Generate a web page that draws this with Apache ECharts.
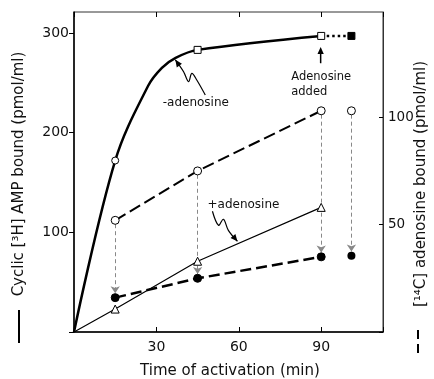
<!DOCTYPE html>
<html>
<head>
<meta charset="utf-8">
<script src="https://cdn.jsdelivr.net/npm/echarts@6/dist/echarts.min.js"></script>
<style>
html,body{margin:0;padding:0;background:#fff;}
#c{width:434px;height:379px;}
</style>
</head>
<body>
<div id="c"></div>
<script>
// ---- data ----
const xTicks = [30, 60, 90];
const leftTicks = [100, 200, 300];
const rightTicks = [50, 100];

// cyclic [3H]AMP bound, - adenosine (left axis), marked points
const minusAdoT = [0, 15, 45, 90];
const minusAdoV = [0, 172, 283, 297];
const minusAdoSym = ['none', 'circle', 'rect', 'rect'];
// extra points (unmarked)
const minusAdoCurveT = [27, 32, 37];
const minusAdoCurveV = [247, 265, 275];
// after adenosine added
const addedT = [90, 101];
const addedV = [297, 297];

// cyclic [3H]AMP bound, + adenosine (left axis)
const plusAdoT = [0, 15, 45, 90];
const plusAdoV = [0, 23, 71, 125];

// [14C]adenosine (right axis): open circles and filled circles
const adoT = [15, 45, 90];
const adoOpenV = [52, 75, 103];
const adoFilledV = [16, 25, 35];
const extraT = [101];
const extraOpenV = [103];
const extraFilledV = [35.5];

const chart = echarts.init(document.getElementById('c'));
const FONT = 'DejaVu Sans';

const minusAdoData = [];
minusAdoT.forEach((t, i) => minusAdoData.push({value: [t, minusAdoV[i]], symbol: minusAdoSym[i]}));
minusAdoCurveT.forEach((t, i) => minusAdoData.push({value: [t, minusAdoCurveV[i]], symbol: 'none'}));
minusAdoData.sort((a, b) => a.value[0] - b.value[0]);

const arrowLines = [];
adoT.forEach((t, i) => arrowLines.push([{coord: [t, adoOpenV[i] - 1.8]}, {coord: [t, adoFilledV[i] + 2]}]));
extraT.forEach((t, i) => arrowLines.push([{coord: [t, extraOpenV[i] - 1.8]}, {coord: [t, extraFilledV[i] + 2]}]));

const topAxis = {
  type: 'value', min: 0, max: 112.5, interval: 30, position: 'top',
  axisLine: {show: false, onZero: false}, axisLabel: {show: false}, splitLine: {show: false},
  axisTick: {show: true, inside: true, length: 5, lineStyle: {color: '#000'}}
};

chart.setOption({
  animation: false,
  backgroundColor: '#fff',
  grid: {left: 74, right: 51, top: 12, bottom: 47, show: true, borderColor: '#333', borderWidth: 1},
  xAxis: [{
    type: 'value', min: 0, max: 112.5, interval: 30, position: 'bottom',
    axisLine: {show: true, onZero: false, lineStyle: {color: '#000', width: 1.5}},
    axisTick: {show: true, inside: true, length: 5, lineStyle: {color: '#000'}},
    splitLine: {show: false},
    axisLabel: {color: '#111', fontFamily: FONT, fontSize: 14, margin: 8,
      formatter: v => xTicks.includes(v) ? String(v) : ''}
  }, topAxis],
  yAxis: [{
    type: 'value', min: 0, max: 321, interval: 100,
    axisLine: {show: true, onZero: false, lineStyle: {color: '#000', width: 1.5}},
    axisTick: {show: true, inside: false, length: 5, lineStyle: {color: '#000'}},
    splitLine: {show: false},
    axisLabel: {color: '#111', fontFamily: FONT, fontSize: 14, margin: 5,
      formatter: v => leftTicks.includes(v) ? String(v) : '', showMaxLabel: false}
  }, {
    type: 'value', min: 0, max: 149, interval: 50, position: 'right',
    axisLine: {show: true, onZero: false, lineStyle: {color: '#333', width: 1}},
    axisTick: {show: true, inside: true, length: 4, lineStyle: {color: '#000'}},
    splitLine: {show: false},
    axisLabel: {color: '#111', fontFamily: FONT, fontSize: 13.5, margin: 5,
      formatter: v => rightTicks.includes(v) ? String(v) : '', showMaxLabel: false}
  }],
  series: [
    {
      name: '-adenosine', type: 'line', yAxisIndex: 0, smooth: 0.35,
      data: minusAdoData, symbolSize: 7,
      itemStyle: {color: '#fff', borderColor: '#000', borderWidth: 1},
      lineStyle: {color: '#000', width: 2.5}, z: 5
    },
    {
      name: 'added', type: 'line', yAxisIndex: 0,
      data: addedT.map((t, i) => ({value: [t, addedV[i]], symbol: i === 0 ? 'none' : 'rect'})),
      symbolSize: 7, itemStyle: {color: '#000', borderColor: '#000'},
      lineStyle: {color: '#000', width: 2.5, type: [2.5, 3]}, z: 4
    },
    {
      name: '+adenosine', type: 'line', yAxisIndex: 0,
      data: plusAdoT.map((t, i) => ({value: [t, plusAdoV[i]], symbol: i === 0 ? 'none' : 'triangle'})),
      symbolSize: 8, itemStyle: {color: '#fff', borderColor: '#000', borderWidth: 1},
      lineStyle: {color: '#000', width: 1.2}, z: 5
    },
    {
      name: 'adoOpen', type: 'line', yAxisIndex: 1,
      data: adoT.map((t, i) => [t, adoOpenV[i]]),
      symbol: 'circle', symbolSize: 8,
      itemStyle: {color: '#fff', borderColor: '#000', borderWidth: 1},
      lineStyle: {color: '#000', width: 2, type: [12, 5]}, z: 5,
      markLine: {
        silent: true, symbol: ['none', 'arrow'], symbolSize: 7,
        label: {show: false},
        lineStyle: {color: '#888', width: 1, type: [4, 3]},
        data: arrowLines
      }
    },
    {
      name: 'adoFilled', type: 'line', yAxisIndex: 1,
      data: adoT.map((t, i) => [t, adoFilledV[i]]),
      symbol: 'circle', symbolSize: 8,
      itemStyle: {color: '#000', borderColor: '#000'},
      lineStyle: {color: '#000', width: 2.5, type: [11, 5]}, z: 6
    },
    {
      name: 'extraOpen', type: 'scatter', yAxisIndex: 1,
      data: extraT.map((t, i) => [t, extraOpenV[i]]),
      symbol: 'circle', symbolSize: 8,
      itemStyle: {color: '#fff', borderColor: '#000', borderWidth: 1, opacity: 1}, z: 6
    },
    {
      name: 'extraFilled', type: 'scatter', yAxisIndex: 1,
      data: extraT.map((t, i) => [t, extraFilledV[i]]),
      symbol: 'circle', symbolSize: 8,
      itemStyle: {color: '#000', opacity: 1}, z: 6
    }
  ]
});

// ---- annotations, anchored in data coordinates (left axis) ----
const P = (x, y) => chart.convertToPixel({xAxisIndex: 0, yAxisIndex: 0}, [x, y]);
function arrowHead(tip, from, size) {
  const dx = tip[0] - from[0], dy = tip[1] - from[1];
  const L = Math.hypot(dx, dy) || 1;
  const ux = dx / L, uy = dy / L;
  const bx = tip[0] - ux * size, by = tip[1] - uy * size;
  const w = size * 0.45;
  return [tip, [bx - uy * w, by + ux * w], [bx + uy * w, by - ux * w]];
}
function squiggle(ptsData) {
  const pts = ptsData.map(p => P(p[0], p[1]));
  const n = pts.length;
  return [
    {type: 'polyline', shape: {points: pts, smooth: 0.35}, style: {stroke: '#000', lineWidth: 1.2, fill: null}, z: 20},
    {type: 'polygon', shape: {points: arrowHead(pts[n - 1], pts[n - 2], 7)}, style: {fill: '#000'}, z: 20}
  ];
}
const g = [];
g.push(...squiggle([[47.8, 237.7], [44.7, 252.8], [42.9, 259.5], [41.7, 251.1], [39.9, 261.1], [36.9, 273]]));
g.push(...squiggle([[50.4, 121.1], [52.6, 107.0], [54.4, 113.1], [56.2, 102.0], [59.5, 91]]));
const t1 = P(32.3, 229.6);
g.push({type: 'text', x: t1[0], y: t1[1], style: {text: '-adenosine', font: '12px "DejaVu Sans"', fill: '#111', textVerticalAlign: 'middle'}, z: 20});
const t2 = P(48.6, 127.1);
g.push({type: 'text', x: t2[0], y: t2[1], style: {text: '+adenosine', font: '12px "DejaVu Sans"', fill: '#111', textVerticalAlign: 'middle'}, z: 20});
// Adenosine added
const a0 = P(89.8, 269.6), a1 = P(89.8, 286);
g.push({type: 'line', shape: {x1: a0[0], y1: a0[1], x2: a1[0], y2: a1[1] + 5}, style: {stroke: '#000', lineWidth: 1.5}, z: 20});
g.push({type: 'polygon', shape: {points: arrowHead(a1, a0, 7)}, style: {fill: '#000'}, z: 20});
const t3 = P(79.1, 256.1), t4 = P(79.1, 241);
g.push({type: 'text', x: t3[0], y: t3[1], style: {text: 'Adenosine', font: '11.5px "DejaVu Sans"', fill: '#111', textVerticalAlign: 'middle'}, z: 20});
g.push({type: 'text', x: t4[0], y: t4[1], style: {text: 'added', font: '11.5px "DejaVu Sans"', fill: '#111', textVerticalAlign: 'middle'}, z: 20});

// axis titles
g.push({type: 'text', x: 230, y: 371, style: {text: 'Time of activation (min)', font: '15px "DejaVu Sans"', fill: '#111', textAlign: 'center', textVerticalAlign: 'middle'}});
g.push({type: 'text', x: 19, y: 174, rotation: Math.PI / 2, style: {text: 'Cyclic [³H] AMP bound (pmol/ml)', font: '15px "DejaVu Sans"', fill: '#111', textAlign: 'center', textVerticalAlign: 'middle'}});
g.push({type: 'line', shape: {x1: 19, y1: 310, x2: 19, y2: 343}, style: {stroke: '#000', lineWidth: 2}});
g.push({type: 'text', x: 421, y: 184, rotation: Math.PI / 2, style: {text: '[¹⁴C] adenosine bound (pmol/ml)', font: '15px "DejaVu Sans"', fill: '#111', textAlign: 'center', textVerticalAlign: 'middle'}});
g.push({type: 'line', shape: {x1: 418, y1: 330, x2: 418, y2: 339}, style: {stroke: '#000', lineWidth: 2}});
g.push({type: 'line', shape: {x1: 418, y1: 344, x2: 418, y2: 353}, style: {stroke: '#000', lineWidth: 2}});

chart.setOption({graphic: g});
</script>
</body>
</html>
